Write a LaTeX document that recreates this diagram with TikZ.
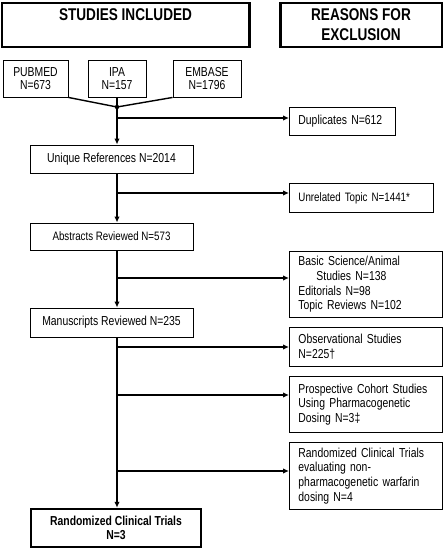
\documentclass[tikz,border=0pt]{standalone}
\usepackage{fontspec}
\setmainfont{Liberation Sans}[FakeStretch=0.8]
\usetikzlibrary{arrows, arrows.meta}
\usetikzlibrary{calc}

\tikzset{
  head/.style={draw, line width=2.5pt, align=center, inner sep=0pt,
    font=\bfseries\fontsize{17}{20}\selectfont},
  box/.style={draw, line width=0.9pt, align=center, inner sep=0pt,
    font=\fontsize{13}{13.8}\selectfont},
  excl/.style={draw, line width=0.9pt, align=left, anchor=north west, inner xsep=9pt,
    inner ysep=0pt, font=\fontsize{13}{14.7}\selectfont},
  flow/.style={line width=1.8pt},
  arr/.style={line width=1.8pt, -{Latex[length=6pt, width=5.5pt]}}
}

\begin{document}
\begin{tikzpicture}[x=1pt, y=-1pt]
    \useasboundingbox (0,0) rectangle (444,549);

    \node[head, minimum width=247.5, minimum height=44] (inc) at (125.5,25) {STUDIES INCLUDED\\\mbox{}};
    \node[head, minimum width=161.5, minimum height=44] (exc) at (361,25) {REASONS FOR\\EXCLUSION};

    \node[box, minimum width=65, minimum height=37] (pubmed) at (35.5,78.5) {PUBMED\\N=673};
    \node[box, minimum width=58, minimum height=37] (ipa) at (117,78.5) {IPA\\N=157};
    \node[box, minimum width=68, minimum height=37] (embase) at (207,78.5) {EMBASE\\N=1796};

    \node[box, minimum width=163, minimum height=28] (unique) at (111.5,159) {Unique References N=2014};
    \node[box, minimum width=163, minimum height=27, font=\fontsize{12.2}{14}\selectfont] (abstracts) at (111.5,236.5) {Abstracts Reviewed N=573};
    \node[box, minimum width=163, minimum height=29] (manuscripts) at (111.5,322.5) {Manuscripts Reviewed N=235};
    \node[box, line width=2.5pt, minimum width=170, minimum height=38, font=\bfseries\fontsize{13}{14.4}\selectfont] (rct) at (116,528) {Randomized Clinical Trials\\N=3};

    \node[excl, text width=88, minimum height=28] (dup) at (289,107) {Duplicates N=612};
    \node[excl, text width=126, minimum height=29, font=\fontsize{12.2}{14}\selectfont] (unrel) at (289,183) {Unrelated Topic N=1441*};
    \node[excl, text width=135, minimum height=66] (basic) at (289,251) {Basic Science/Animal\\\hspace*{18pt}Studies N=138\\Editorials N=98\\Topic Reviews N=102};
    \node[excl, text width=135, minimum height=39] (obs) at (289,327) {Observational Studies\\N=225†};
    \node[excl, text width=135, minimum height=56] (pros) at (289,376) {Prospective Cohort Studies\\Using Pharmacogenetic\\Dosing N=3‡};
    \node[excl, text width=135, minimum height=67] (nonpg) at (289,442) {Randomized Clinical Trials\\evaluating non-\\pharmacogenetic warfarin\\dosing N=4};

    \coordinate (jn) at (117,107);
    \coordinate (b1) at (117,118);
    \coordinate (b2) at (117,193);
    \coordinate (b3) at (117,278);
    \coordinate (b4) at (117,347);
    \coordinate (b5) at (117,395);
    \coordinate (b6) at (117,471);

    \draw[line width=1.4pt] (pubmed.south east) -- (jn);
    \draw[line width=1.4pt] (embase.south west) -- (jn);
    \draw[line width=1.4pt] (ipa.south) -- (jn);
    \fill (jn) circle (2.2);

    \draw[arr] (jn) -- (jn |- unique.north);
    \draw[arr] (unique.south -| jn) -- (jn |- abstracts.north);
    \draw[arr] (abstracts.south -| jn) -- (jn |- manuscripts.north);
    \draw[arr] (manuscripts.south -| jn) -- (jn |- rct.north);

    \draw[arr] (b1) -- (b1 -| dup.west);
    \draw[arr] (b2) -- (b2 -| unrel.west);
    \draw[arr] (b3) -- (b3 -| basic.west);
    \draw[arr] (b4) -- (b4 -| obs.west);
    \draw[arr] (b5) -- (b5 -| pros.west);
    \draw[arr] (b6) -- (b6 -| nonpg.west);
\end{tikzpicture}
\end{document}
